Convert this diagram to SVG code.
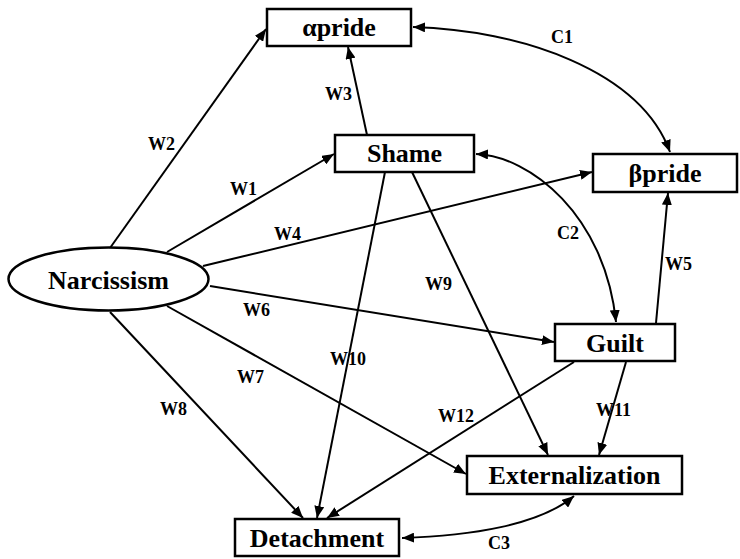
<svg xmlns="http://www.w3.org/2000/svg" width="740" height="559" viewBox="0 0 740 559">
<style>
.box{fill:#fff;stroke:#000;stroke-width:2.5}
.nl{font-family:"Liberation Serif",serif;font-weight:bold;font-size:26px;text-anchor:middle;fill:#000}
.el{font-family:"Liberation Serif",serif;font-weight:bold;font-size:18px;fill:#000}
.c{fill:none;stroke:#000;stroke-width:2;marker-end:url(#ah)}
.d{marker-start:url(#ah)}
</style>
<defs>
<marker id="ah" viewBox="0 0 12 10" refX="12" refY="5" markerWidth="12" markerHeight="10" markerUnits="userSpaceOnUse" orient="auto-start-reverse">
<path d="M0,0 L12,5 L0,10 z" fill="#000"/>
</marker>
</defs>
<rect width="740" height="559" fill="#fff"/>
<g id="connectors">
<line class="c" x1="110" y1="248" x2="266" y2="29"/>
<line class="c" x1="167" y1="252" x2="334" y2="154"/>
<line class="c" x1="367" y1="135" x2="348" y2="47"/>
<line class="c" x1="203" y1="266" x2="592" y2="172"/>
<line class="c" x1="656" y1="323" x2="668" y2="193"/>
<line class="c" x1="210" y1="286" x2="554" y2="342"/>
<line class="c" x1="167" y1="306" x2="466" y2="474"/>
<line class="c" x1="110" y1="312" x2="303" y2="518"/>
<line class="c" x1="412" y1="172" x2="548" y2="455"/>
<line class="c" x1="385" y1="172" x2="317" y2="518"/>
<line class="c" x1="626" y1="362" x2="599" y2="455"/>
<line class="c" x1="574" y1="362" x2="327" y2="518"/>
<path class="c d" d="M413,27 C520,30 640,70 670,152"/>
<path class="c d" d="M476,154 C530,156 605,215 616,322"/>
<path class="c d" d="M402,538 C470,536 540,525 574,496"/>
<text class="el" x="148" y="150">W2</text>
<text class="el" x="230" y="195">W1</text>
<text class="el" x="325" y="100">W3</text>
<text class="el" x="274" y="240">W4</text>
<text class="el" x="551" y="43">C1</text>
<text class="el" x="557" y="239">C2</text>
<text class="el" x="665" y="270">W5</text>
<text class="el" x="425" y="290">W9</text>
<text class="el" x="243" y="316">W6</text>
<text class="el" x="330" y="365">W10</text>
<text class="el" x="237" y="383">W7</text>
<text class="el" x="160" y="415">W8</text>
<text class="el" x="438" y="422">W12</text>
<text class="el" x="596" y="416">W11</text>
<text class="el" x="488" y="549">C3</text>
</g>
<g id="narcissism">
<ellipse cx="108.5" cy="279" rx="100" ry="31.5" fill="#fff" stroke="#000" stroke-width="2.5"/>
<text class="nl" x="108.5" y="289">Narcissism</text>
</g>
<g id="apride">
<rect class="box" x="267" y="9" width="144" height="37"/>
<text class="nl" x="339" y="36">αpride</text>
</g>
<g id="shame">
<rect class="box" x="335" y="135" width="139" height="37"/>
<text class="nl" x="404.5" y="162">Shame</text>
</g>
<g id="bpride">
<rect class="box" x="593" y="154" width="144" height="38"/>
<text class="nl" x="665" y="182">βpride</text>
</g>
<g id="guilt">
<rect class="box" x="555" y="324" width="120" height="37"/>
<text class="nl" x="615" y="352">Guilt</text>
</g>
<g id="externalization">
<rect class="box" x="467" y="456" width="215" height="38"/>
<text class="nl" x="574.5" y="484">Externalization</text>
</g>
<g id="detachment">
<rect class="box" x="235" y="519" width="164" height="37"/>
<text class="nl" x="317" y="547">Detachment</text>
</g>
</svg>
